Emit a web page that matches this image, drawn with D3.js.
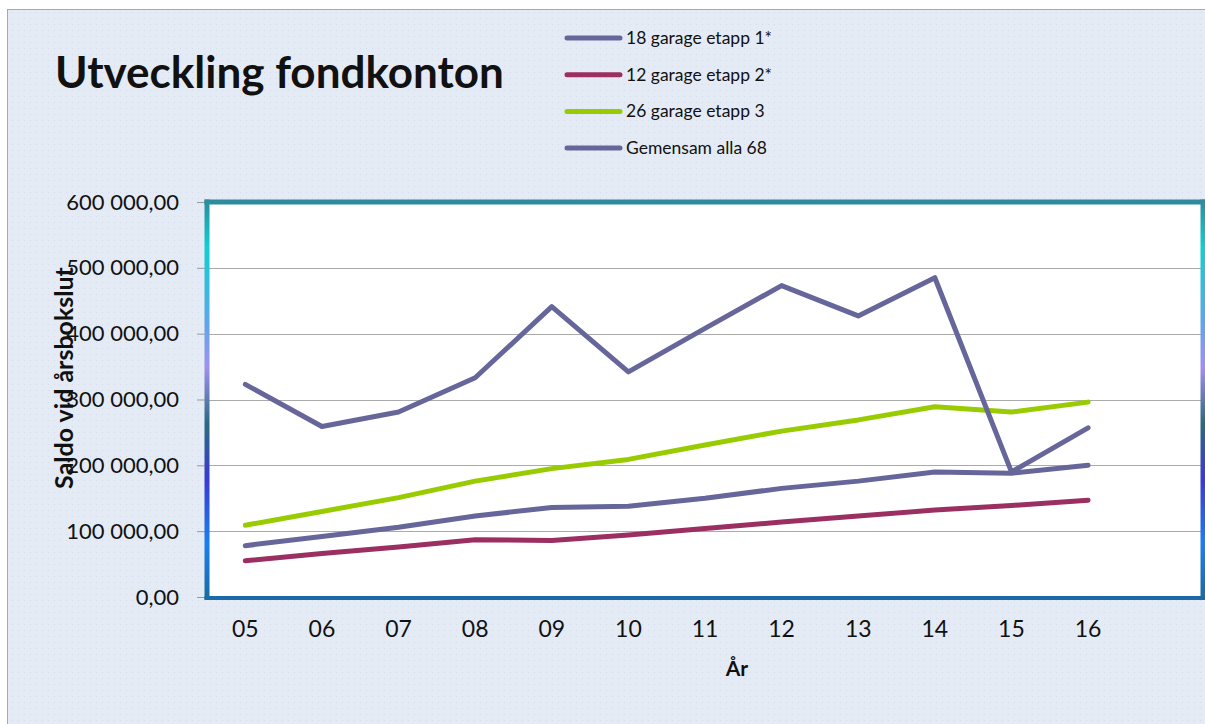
<!DOCTYPE html>
<html>
<head>
<meta charset="utf-8">
<script src="https://cdn.jsdelivr.net/npm/d3@7"></script>
<style>
  body { margin: 0; background: #fff; }
  svg { display: block; }
  text { font-family: Lato, "Open Sans", sans-serif; fill: #111; }
</style>
</head>
<body>
<div id="chart"></div>
<script>
// years on the x axis (last band left empty, like the sheet)
const years = ["05", "06", "07", "08", "09", "10", "11", "12", "13", "14", "15", "16", ""];
const yTicks = [0, 100000, 200000, 300000, 400000, 500000, 600000];

const etapp1 = [78000, 92000, 106000, 123000, 136000, 138000, 150000, 165000, 176000, 190000, 188000, 200000];
const etapp2 = [55000, 66000, 76000, 87000, 86000, 94000, 104000, 114000, 123000, 132000, 139000, 147000];
const etapp3 = [109000, 130000, 151000, 176000, 195000, 209000, 231000, 252000, 269000, 289000, 281000, 296000];
const gemensam = [323000, 259000, 281000, 333000, 441000, 342000, 408000, 473000, 427000, 485000, 190000, 257000];

const seriesNames = ["18 garage etapp 1*", "12 garage etapp 2*", "26 garage etapp 3", "Gemensam alla 68"];
const seriesColors = ["#66669a", "#9b2f62", "#99cc00", "#66669a"];
const seriesValues = [etapp1, etapp2, etapp3, gemensam];

const W = 1205, H = 724;
const plot = { left: 207, top: 202, right: 1203, bottom: 597 };

const svg = d3.select("#chart").append("svg").attr("width", W).attr("height", H);
const defs = svg.append("defs");

// dotted slide background
const pat = defs.append("pattern").attr("id", "dots")
    .attr("width", 6).attr("height", 6).attr("patternUnits", "userSpaceOnUse");
pat.append("rect").attr("width", 6).attr("height", 6).attr("fill", "#e4ebf5");
pat.append("rect").attr("width", 1).attr("height", 1).attr("fill", "#d3dcea");

svg.append("rect").attr("width", W).attr("height", H).attr("fill", "#fff");
svg.append("rect").attr("x", 7.5).attr("y", 9.5).attr("width", W).attr("height", H)
    .attr("fill", "url(#dots)").attr("stroke", "#a9a9a9");

// gradient for the side borders of the plot frame
const grad = defs.append("linearGradient").attr("id", "side")
    .attr("x1", 0).attr("y1", 0).attr("x2", 0).attr("y2", 1);
[["0", "#2e8a9e"], ["0.12", "#10d0d0"], ["0.3", "#5aa8e8"], ["0.42", "#a090f0"], ["0.56", "#2a6a80"],
 ["0.7", "#3a3ad0"], ["0.86", "#1a80f0"], ["1", "#1a6aa0"]]
  .forEach(s => grad.append("stop").attr("offset", s[0]).attr("stop-color", s[1]));

const x = d3.scaleBand().domain(years).range([plot.left, plot.right]);
const y = d3.scaleLinear().domain([0, 600000]).range([plot.bottom, plot.top]);

svg.append("rect").attr("x", plot.left).attr("y", plot.top)
    .attr("width", plot.right - plot.left).attr("height", plot.bottom - plot.top)
    .attr("fill", "#fff");

// gridlines
svg.append("g").selectAll("line").data(yTicks.slice(1, -1)).join("line")
    .attr("x1", plot.left).attr("x2", plot.right)
    .attr("y1", d => Math.round(y(d)) + 0.5).attr("y2", d => Math.round(y(d)) + 0.5)
    .attr("stroke", "#aaa").attr("stroke-width", 1.2);

// y axis
const fmt = v => v === 0 ? "0,00" : d3.format(",")(v).replace(/,/g, " ") + ",00";
const yAxis = svg.append("g").attr("transform", `translate(${plot.left},0)`)
    .call(d3.axisLeft(y).tickValues(yTicks).tickFormat(fmt).tickSize(10).tickPadding(18));
yAxis.select(".domain").remove();
yAxis.selectAll(".tick line").attr("stroke", "#999");
yAxis.selectAll(".tick text").attr("font-size", 22).attr("font-family", "Lato, sans-serif").attr("fill", "#111");

// x axis labels
const xAxis = svg.append("g").attr("transform", `translate(0,${plot.bottom})`)
    .call(d3.axisBottom(x).tickSize(0).tickPadding(24));
xAxis.select(".domain").remove();
xAxis.selectAll(".tick text").attr("font-size", 23).attr("font-family", "Lato, sans-serif").attr("fill", "#111");

// lines
const line = d3.line().x((d, i) => x(years[i]) + x.bandwidth() / 2).y(d => y(d));
svg.append("g").selectAll("path").data(seriesValues).join("path")
    .attr("d", d => line(d))
    .attr("fill", "none")
    .attr("stroke", (d, i) => seriesColors[i])
    .attr("stroke-width", 5)
    .attr("stroke-linejoin", "round")
    .attr("stroke-linecap", "round");

// plot frame
const bw = 5;
svg.append("rect").attr("x", plot.left - bw / 2).attr("y", plot.top - bw / 2)
    .attr("width", plot.right - plot.left + bw).attr("height", bw).attr("fill", "#2e8a9e");
svg.append("rect").attr("x", plot.left - bw / 2).attr("y", plot.bottom - 1)
    .attr("width", plot.right - plot.left + bw).attr("height", 4).attr("fill", "#1a6aa8");
svg.append("rect").attr("x", plot.left - bw / 2).attr("y", plot.top - bw / 2)
    .attr("width", bw).attr("height", plot.bottom - plot.top + bw).attr("fill", "url(#side)");
svg.append("rect").attr("x", plot.right - bw / 2).attr("y", plot.top - bw / 2)
    .attr("width", bw).attr("height", plot.bottom - plot.top + bw).attr("fill", "url(#side)");

// title
svg.append("text").attr("x", 55).attr("y", 88)
    .attr("font-size", 44).attr("font-weight", "bold").attr("font-family", "Lato, sans-serif")
    .text("Utveckling fondkonton");

// axis titles
svg.append("text").attr("x", 737).attr("y", 676).attr("text-anchor", "middle")
    .attr("font-size", 21).attr("font-weight", "bold").text("År");
svg.append("text").attr("transform", "translate(73,378) rotate(-90)").attr("text-anchor", "middle")
    .attr("font-size", 25).attr("font-weight", "bold").text("Saldo vid årsbokslut");

// legend
const legend = svg.append("g").selectAll("g").data(seriesNames).join("g")
    .attr("transform", (d, i) => `translate(565,${38 + i * 36.7})`);
legend.append("line").attr("x1", 2).attr("x2", 55)
    .attr("stroke", (d, i) => seriesColors[i]).attr("stroke-width", 5).attr("stroke-linecap", "round");
legend.append("text").attr("x", 61).attr("y", 6).attr("font-size", 17.5).text(d => d);
</script>
</body>
</html>
